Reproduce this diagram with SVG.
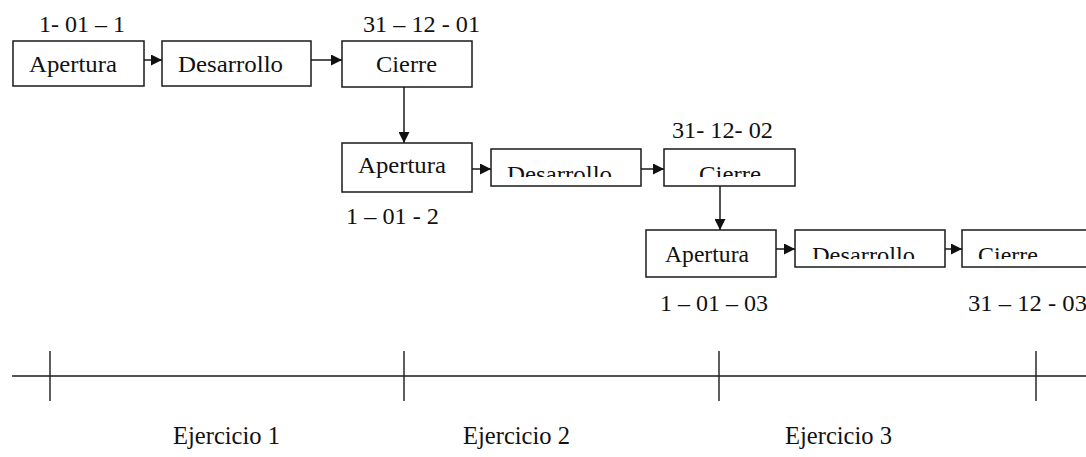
<svg xmlns="http://www.w3.org/2000/svg" width="1086" height="457" viewBox="0 0 1086 457">
<style>
.box{fill:#fff;stroke:#1a1a1a;stroke-width:1.5}
.t{font-size:23px;fill:#111}
.e{font-size:25px;fill:#111}
.c{stroke:#1a1a1a;stroke-width:1.5;fill:none}
.ax{stroke:#1a1a1a;stroke-width:1.4}
</style>
<defs>
<marker id="ah" viewBox="0 0 10 10" refX="10" refY="5" markerWidth="11" markerHeight="11" markerUnits="userSpaceOnUse" orient="auto">
<path d="M0,0 L10,5 L0,10 Z" fill="#111"/>
</marker>
<clipPath id="c2"><rect x="480" y="150" width="330" height="27"/></clipPath>
<clipPath id="c3"><rect x="790" y="231" width="296" height="28"/></clipPath>
</defs>

<g id="connectors">
<line class="c" x1="144" y1="60" x2="162" y2="60" marker-end="url(#ah)"/>
<line class="c" x1="311" y1="60" x2="342" y2="60" marker-end="url(#ah)"/>
<line class="c" x1="404" y1="87" x2="404" y2="143" marker-end="url(#ah)"/>
<line class="c" x1="472" y1="169" x2="491" y2="169" marker-end="url(#ah)"/>
<line class="c" x1="641" y1="169" x2="664" y2="169" marker-end="url(#ah)"/>
<line class="c" x1="720" y1="186" x2="720" y2="230" marker-end="url(#ah)"/>
<line class="c" x1="776" y1="249" x2="795" y2="249" marker-end="url(#ah)"/>
<line class="c" x1="945" y1="249" x2="962" y2="249" marker-end="url(#ah)"/>
</g>

<g font-family="Liberation Serif, Times New Roman, serif">
<g id="apertura1"><rect class="box" x="13" y="41" width="131" height="45"/><text class="t" x="29" y="72" textLength="88" lengthAdjust="spacingAndGlyphs">Apertura</text></g>
<g id="desarrollo1"><rect class="box" x="162" y="41" width="149" height="45"/><text class="t" x="178" y="72" textLength="105" lengthAdjust="spacingAndGlyphs">Desarrollo</text></g>
<g id="cierre1"><rect class="box" x="342" y="41" width="130" height="46"/><text class="t" x="376" y="72" textLength="61" lengthAdjust="spacingAndGlyphs">Cierre</text></g>

<g id="apertura2"><rect class="box" x="342" y="143" width="130" height="49"/><text class="t" x="358" y="173" textLength="88" lengthAdjust="spacingAndGlyphs">Apertura</text></g>
<g id="desarrollo2"><rect class="box" x="491" y="149" width="150" height="37"/><text class="t" x="507" y="182" textLength="105" lengthAdjust="spacingAndGlyphs" clip-path="url(#c2)">Desarrollo</text></g>
<g id="cierre2"><rect class="box" x="664" y="149" width="131" height="37"/><text class="t" x="699" y="182" textLength="62" lengthAdjust="spacingAndGlyphs" clip-path="url(#c2)">Cierre</text></g>

<g id="apertura3"><rect class="box" x="646" y="230" width="130" height="47"/><text class="t" x="665" y="262" textLength="84" lengthAdjust="spacingAndGlyphs">Apertura</text></g>
<g id="desarrollo3"><rect class="box" x="795" y="230" width="150" height="37"/><text class="t" x="812" y="263" textLength="103" lengthAdjust="spacingAndGlyphs" clip-path="url(#c3)">Desarrollo</text></g>
<g id="cierre3"><rect class="box" x="962" y="230" width="140" height="37"/><text class="t" x="978" y="263" textLength="60" lengthAdjust="spacingAndGlyphs" clip-path="url(#c3)">Cierre</text></g>

<g id="dates">
<text class="t" x="39" y="32" textLength="86" lengthAdjust="spacingAndGlyphs">1- 01 – 1</text>
<text class="t" x="363" y="32" textLength="117" lengthAdjust="spacingAndGlyphs">31 – 12 - 01</text>
<text class="t" x="672" y="138" textLength="101" lengthAdjust="spacingAndGlyphs">31- 12- 02</text>
<text class="t" x="346" y="224" textLength="93" lengthAdjust="spacingAndGlyphs">1 – 01 - 2</text>
<text class="t" x="660" y="311" textLength="108" lengthAdjust="spacingAndGlyphs">1 – 01 – 03</text>
<text class="t" x="968" y="311" textLength="119" lengthAdjust="spacingAndGlyphs">31 – 12 - 03</text>
</g>

<g id="timeline">
<line class="ax" x1="12" y1="376" x2="1086" y2="376"/>
<line class="ax" x1="50" y1="351" x2="50" y2="401"/>
<line class="ax" x1="404" y1="351" x2="404" y2="401"/>
<line class="ax" x1="719" y1="351" x2="719" y2="401"/>
<line class="ax" x1="1036" y1="351" x2="1036" y2="401"/>
<text class="e" x="173" y="444" textLength="107" lengthAdjust="spacingAndGlyphs">Ejercicio 1</text>
<text class="e" x="463" y="444" textLength="107" lengthAdjust="spacingAndGlyphs">Ejercicio 2</text>
<text class="e" x="785" y="444" textLength="107" lengthAdjust="spacingAndGlyphs">Ejercicio 3</text>
</g>
</g>
</svg>
